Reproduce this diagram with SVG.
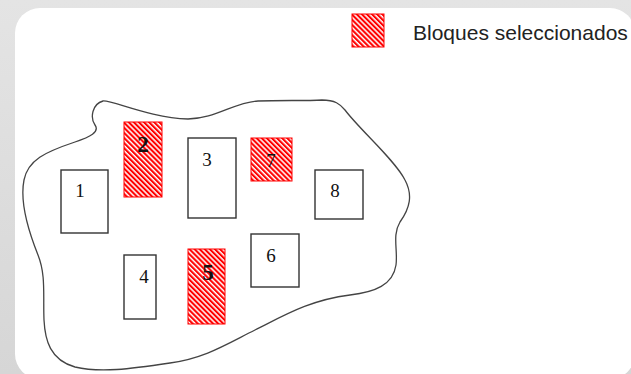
<svg xmlns="http://www.w3.org/2000/svg" width="631" height="374" viewBox="0 0 631 374">
<style>
.blk{fill:#fff;stroke:#333;stroke-width:1.4}
.sel{fill:url(#hatch);stroke:#f00;stroke-width:1}
.num{font-family:"Liberation Serif","Times New Roman",serif;font-size:19px;fill:#111;text-anchor:middle}
.bold{font-weight:bold;font-size:23px}
.lbl{font-family:"Liberation Sans",Arial,sans-serif;font-size:21px;fill:#222}
</style>
<defs>
<linearGradient id="bg" x1="0" y1="0" x2="0" y2="1">
<stop offset="0" stop-color="#e4e4e4"/>
<stop offset="1" stop-color="#d6d6d6"/>
</linearGradient>
<pattern id="hatch" patternUnits="userSpaceOnUse" width="3.6" height="3.6" patternTransform="rotate(-45)">
<rect x="0" y="0" width="3.6" height="3.6" fill="#fff"/>
<rect x="0" y="0" width="2.1" height="3.6" fill="#f00"/>
</pattern>
</defs>
<rect x="0" y="0" width="631" height="374" fill="url(#bg)"/>
<rect x="15" y="8" width="620" height="371" rx="25" ry="25" fill="#fff"/>
<g id="region">
<path d="M 103,101 C 112,100 150,118 188,119 C 215,119 235,102 258,101 C 280,100 305,101 322,100 C 335,100 340,104 345,110 C 360,130 395,160 405,180 C 413,195 410,208 400,222 C 392,235 398,250 396,265 C 393,285 375,292 350,295 C 310,300 285,315 255,330 C 225,345 205,358 170,363 C 130,369 100,373 75,367 C 50,360 45,340 44,320 C 43,295 46,275 38,255 C 28,230 20,200 24,180 C 28,160 45,152 75,142 C 90,137 100,132 95,125 C 90,118 92,104 103,101 Z" fill="none" stroke="#444" stroke-width="1.3"/>
</g>
<g id="connectors"></g>
<g id="block1"><rect class="blk" x="61" y="170" width="47" height="63"/><text class="num" x="80" y="197">1</text></g>
<g id="block2"><rect class="sel" x="124" y="122" width="38" height="75"/><text class="num bold" x="143" y="152">2</text></g>
<g id="block3"><rect class="blk" x="188" y="138" width="48" height="80"/><text class="num" x="207" y="166">3</text></g>
<g id="block4"><rect class="blk" x="124" y="255" width="32" height="64"/><text class="num" x="144" y="283">4</text></g>
<g id="block5"><rect class="sel" x="188" y="249" width="37" height="75"/><text class="num bold" x="208" y="280">5</text></g>
<g id="block6"><rect class="blk" x="251" y="234" width="48" height="53"/><text class="num" x="271" y="262">6</text></g>
<g id="block7"><rect class="sel" x="251" y="138" width="41" height="43"/><text class="num" x="271" y="167">7</text></g>
<g id="block8"><rect class="blk" x="315" y="170" width="48" height="49"/><text class="num" x="335" y="197">8</text></g>
<g id="legend"><rect class="sel" x="352" y="14" width="32" height="33"/><text class="lbl" x="413" y="40">Bloques seleccionados</text></g>
</svg>
